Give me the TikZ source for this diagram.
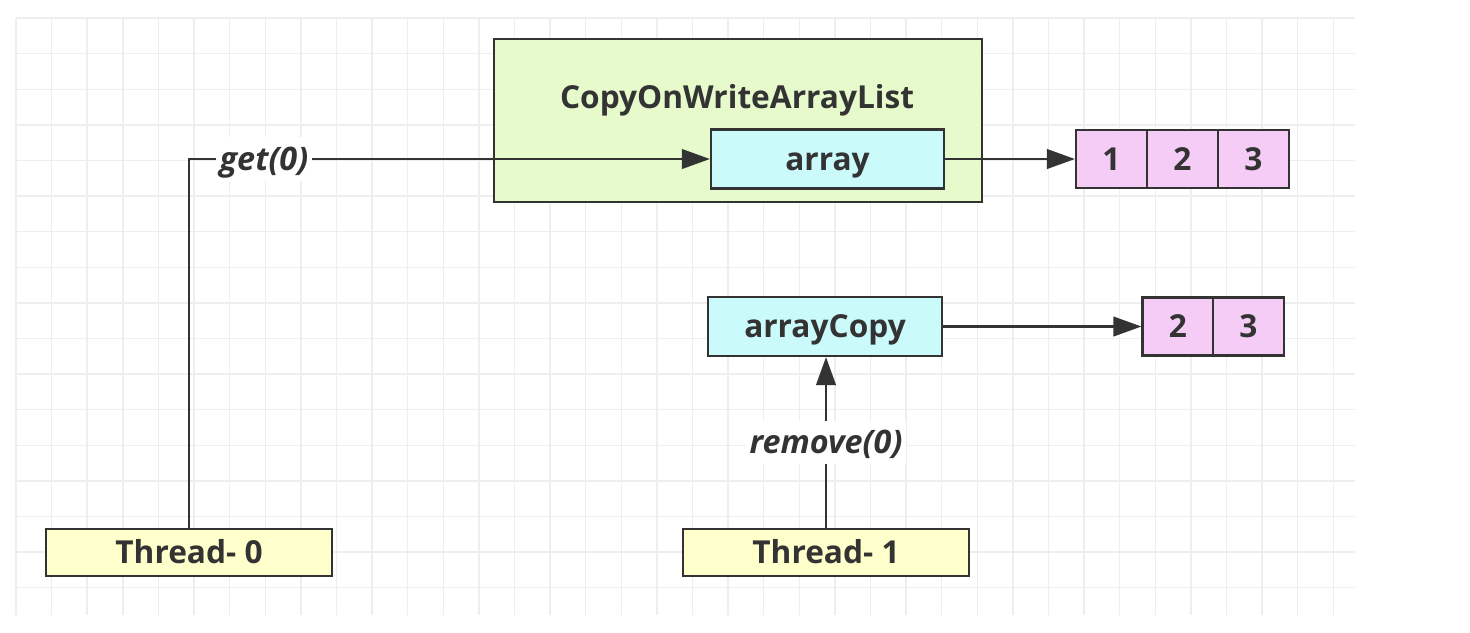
\documentclass[tikz,border=0pt]{standalone}
\usepackage{fontspec}
\setmainfont{Open Sans}
\usepackage{tikz}
\usetikzlibrary{arrows.meta}

\definecolor{listgreen}{RGB}{230,250,204}
\definecolor{fieldcyan}{RGB}{202,250,250}
\definecolor{cellpink}{RGB}{245,204,245}
\definecolor{threadyellow}{RGB}{255,255,204}
\definecolor{inkgray}{RGB}{51,51,51}
\definecolor{gridgray}{RGB}{238,238,238}

\begin{document}
\begin{tikzpicture}[x=0.01cm,y=-0.01cm,->,>={Triangle[length=8pt,width=5.6pt]},
  line width=0.6pt,draw=inkgray,text=inkgray,
  font=\fontsize{9}{11}\selectfont\bfseries,
  every node/.style={text height=8.4pt,text depth=2pt},
  box node/.style={draw=inkgray,rectangle,inner sep=0pt},
  field node/.style={box node,fill=fieldcyan,minimum width=2.33cm,minimum height=0.59cm},
  cell node/.style={box node,fill=cellpink,minimum width=0.71cm,minimum height=0.58cm},
  thread node/.style={box node,fill=threadyellow,minimum width=2.86cm,minimum height=0.47cm},
  call label/.style={fill=white,inner sep=1pt,font=\fontsize{9.2}{11}\selectfont\bfseries\itshape}]

  % page and background grid
  \fill[white] (0,0) rectangle (1470,632);
  \useasboundingbox (0,0) rectangle (1470,632);
  \foreach \k in {0,...,37}
    \draw[-,gridgray,line width=0.4pt] (16+35.6*\k,18) -- (16+35.6*\k,615);
  \foreach \k in {0,...,16}
    \draw[-,gridgray,line width=0.4pt] (16,18+35.6*\k) -- (1355,18+35.6*\k);

  % the list object
  \node[box node,fill=listgreen,minimum width=4.88cm,minimum height=1.63cm] (list) at (738,120.5) {};
  \node (title) at (737,97) {CopyOnWriteArrayList};
  \node[field node] (array) at (827.5,159) {array};
  \node[field node] (copy) at (825,326.5) {arrayCopy};

  % element arrays
  \node[cell node] (a1) at (1111.5,159) {1};
  \node[cell node] (a2) at (1182.5,159) {2};
  \node[cell node] (a3) at (1253.5,159) {3};
  \node[cell node] (b2) at (1178,326.5) {2};
  \node[cell node] (b3) at (1248.5,326.5) {3};

  % threads
  \node[thread node] (t0) at (189,552.5) {Thread- 0};
  \node[thread node] (t1) at (826,552.5) {Thread- 1};

  \draw (t0.north) |- node[call label,pos=0.572] {get(0)} (array.west);
  \draw (array.east) -- (a1.west);
  \draw (copy.east) -- (b2.west);
  \draw (t1.north) -- node[call label] {remove(0)} (t1.north |- copy.south);
\end{tikzpicture}
\end{document}
